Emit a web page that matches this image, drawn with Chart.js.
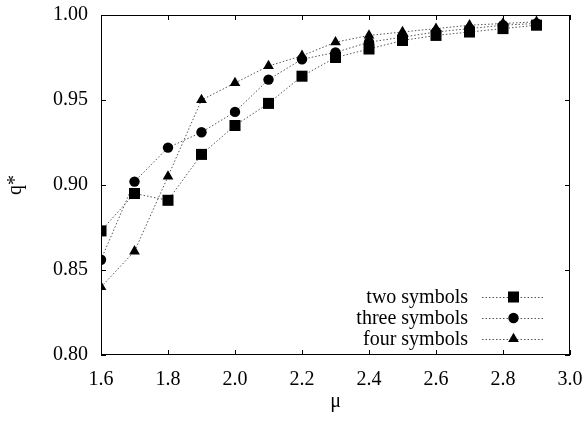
<!DOCTYPE html>
<html>
<head>
<meta charset="utf-8">
<script src="https://cdn.jsdelivr.net/npm/chart.js@4.4.0/dist/chart.umd.min.js"></script>
<style>
  html, body { margin: 0; padding: 0; background: #fff; }
  #wrap { width: 585px; height: 422px; position: relative; }
</style>
</head>
<body>
<div id="wrap"><canvas id="c" width="585" height="422"></canvas></div>
<script>
// ---- data ----
const mu = [1.6, 1.7, 1.8, 1.9, 2.0, 2.1, 2.2, 2.3, 2.4, 2.5, 2.6, 2.7, 2.8, 2.9];
const twoSymbols   = [0.873, 0.895, 0.891, 0.918, 0.935, 0.948, 0.964, 0.975, 0.980, 0.985, 0.988, 0.990, 0.992, 0.994];
const threeSymbols = [0.856, 0.902, 0.922, 0.931, 0.943, 0.962, 0.974, 0.978, 0.984, 0.987, 0.990, 0.992, 0.994, 0.995];
const fourSymbols  = [0.840, 0.861, 0.905, 0.950, 0.960, 0.970, 0.976, 0.984, 0.988, 0.990, 0.992, 0.994, 0.995, 0.996];
const seriesNames = ['two symbols', 'three symbols', 'four symbols'];
const xTickLabels = ['1.6', '1.8', '2.0', '2.2', '2.4', '2.6', '2.8', '3.0'];
const yTickLabels = ['0.80', '0.85', '0.90', '0.95', '1.00'];

const FONT = "'Liberation Serif', 'Times New Roman', serif";
const toXY = arr => arr.map((v, i) => ({ x: mu[i], y: v }));

const common = {
  borderColor: '#555',
  borderWidth: 1,
  borderDash: [1.5, 2],
  backgroundColor: '#000',
  pointBackgroundColor: '#000',
  pointBorderColor: '#000',
  pointBorderWidth: 0,
  fill: false,
  tension: 0
};

const datasets = [
  Object.assign({ label: seriesNames[0], data: toXY(twoSymbols),   pointStyle: 'rect',     pointRadius: 7.8 }, common),
  Object.assign({ label: seriesNames[1], data: toXY(threeSymbols), pointStyle: 'circle',   pointRadius: 5.2 }, common),
  Object.assign({ label: seriesNames[2], data: toXY(fourSymbols),  pointStyle: 'triangle', pointRadius: 6.2 }, common)
];

function drawMarker(ctx, style, r, x, y) {
  ctx.beginPath();
  if (style === 'rect') {
    const s = Math.SQRT1_2 * r;
    ctx.rect(x - s, y - s, 2 * s, 2 * s);
  } else if (style === 'circle') {
    ctx.arc(x, y, r, 0, Math.PI * 2);
  } else if (style === 'triangle') {
    let a = 0;
    ctx.moveTo(x + Math.sin(a) * r, y - Math.cos(a) * r);
    a += 2 * Math.PI / 3;
    ctx.lineTo(x + Math.sin(a) * r, y - Math.cos(a) * r);
    a += 2 * Math.PI / 3;
    ctx.lineTo(x + Math.sin(a) * r, y - Math.cos(a) * r);
    ctx.closePath();
  }
  ctx.fill();
}

const framePlugin = {
  id: 'frame',
  afterDatasetsDraw(chart) {
    const { ctx, chartArea: a, scales } = chart;
    ctx.save();
    ctx.strokeStyle = '#000';
    ctx.lineWidth = 1;
    ctx.setLineDash([]);
    ctx.strokeRect(a.left + 0.5, a.top + 0.5, a.right - a.left - 1, a.bottom - a.top - 1);
    const tl = 5;
    ctx.beginPath();
    scales.x.ticks.forEach(t => {
      const px = Math.round(scales.x.getPixelForValue(t.value)) + 0.5;
      ctx.moveTo(px, a.bottom); ctx.lineTo(px, a.bottom - tl);
      ctx.moveTo(px, a.top); ctx.lineTo(px, a.top + tl);
    });
    scales.y.ticks.forEach(t => {
      const py = Math.round(scales.y.getPixelForValue(t.value)) + 0.5;
      ctx.moveTo(a.left, py); ctx.lineTo(a.left + tl, py);
      ctx.moveTo(a.right, py); ctx.lineTo(a.right - tl, py);
    });
    ctx.stroke();

    // gnuplot-style key, bottom right inside the plot
    ctx.font = '20px ' + FONT;
    ctx.textAlign = 'right';
    ctx.textBaseline = 'middle';
    chart.data.datasets.forEach((ds, i) => {
      const y = a.bottom - 58 + i * 21;
      const textRight = a.right - 102;
      const lx0 = a.right - 88, lx1 = a.right - 25;
      ctx.fillStyle = '#000';
      ctx.fillText(ds.label, textRight, y + 1);
      ctx.strokeStyle = ds.borderColor;
      ctx.lineWidth = ds.borderWidth;
      ctx.setLineDash(ds.borderDash);
      ctx.beginPath();
      ctx.moveTo(lx0, y + 0.5); ctx.lineTo(lx1, y + 0.5);
      ctx.stroke();
      ctx.setLineDash([]);
      ctx.fillStyle = '#000';
      drawMarker(ctx, ds.pointStyle, ds.pointRadius, (lx0 + lx1) / 2, y);
    });
    ctx.restore();
  }
};

new Chart(document.getElementById('c'), {
  type: 'line',
  data: { datasets },
  options: {
    responsive: false,
    animation: false,
    devicePixelRatio: 1,
    layout: { padding: { top: 15, right: 15, left: 0, bottom: 0 } },
    plugins: { legend: { display: false }, tooltip: { enabled: false } },
    scales: {
      x: {
        type: 'linear',
        min: 1.6, max: 3.0,
        afterFit: s => { s.height = 67; s.paddingLeft = 0; s.paddingRight = 0; },
        afterBuildTicks: s => { s.ticks = xTickLabels.map(v => ({ value: parseFloat(v) })); },
        grid: { display: false, drawTicks: false },
        border: { display: false },
        ticks: {
          padding: 13,
          color: '#000',
          font: { family: FONT, size: 20 },
          callback: (v) => xTickLabels.find(l => Math.abs(parseFloat(l) - v) < 1e-6) || ''
        },
        title: { display: true, text: 'μ', color: '#000', font: { family: FONT, size: 20 }, padding: { top: 0, bottom: 8 } }
      },
      y: {
        type: 'linear',
        min: 0.80, max: 1.00,
        afterFit: s => { s.width = 101; s.paddingTop = 0; s.paddingBottom = 0; },
        afterBuildTicks: s => { s.ticks = yTickLabels.map(v => ({ value: parseFloat(v) })); },
        grid: { display: false, drawTicks: false },
        border: { display: false },
        ticks: {
          padding: 13,
          color: '#000',
          font: { family: FONT, size: 20 },
          callback: (v) => yTickLabels.find(l => Math.abs(parseFloat(l) - v) < 1e-6) || ''
        },
        title: { display: true, text: 'q*', color: '#000', font: { family: FONT, size: 20 }, padding: { top: 4, bottom: 0 } }
      }
    }
  },
  plugins: [framePlugin]
});
</script>
</body>
</html>
